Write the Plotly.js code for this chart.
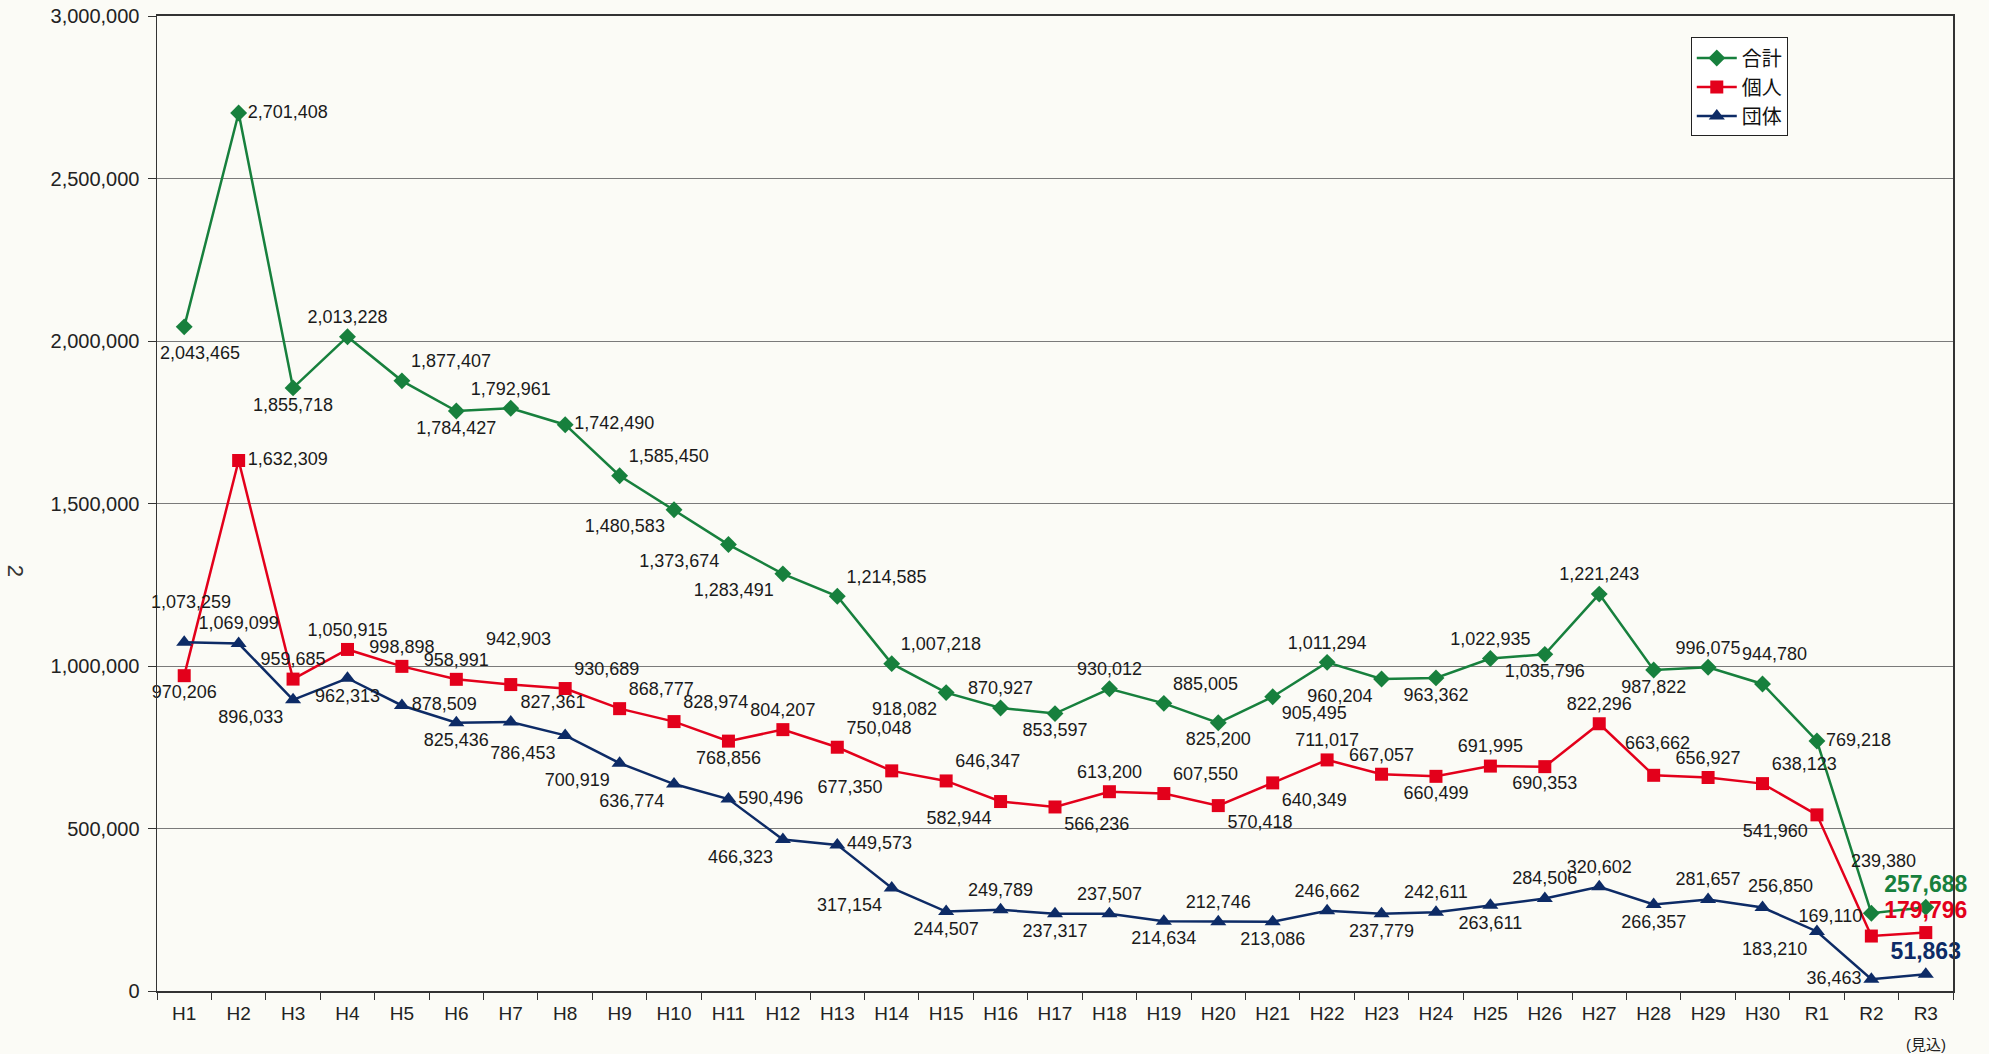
<!DOCTYPE html>
<html>
<head>
<meta charset="utf-8">
<script src="https://cdn.plot.ly/plotly-3.0.1.min.js"></script>
<style>
html,body{margin:0;padding:0;background:#fbfbf6;}
#chart{width:1989px;height:1054px;}
</style>
</head>
<body>
<div id="chart"></div>
<script>
// ---- data ----
const categories = ['H1','H2','H3','H4','H5','H6','H7','H8','H9','H10','H11','H12','H13','H14','H15','H16','H17','H18','H19','H20','H21','H22','H23','H24','H25','H26','H27','H28','H29','H30','R1','R2','R3'];
const totalValues = [2043465,2701408,1855718,2013228,1877407,1784427,1792961,1742490,1585450,1480583,1373674,1283491,1214585,1007218,918082,870927,853597,930012,885005,825200,905495,1011294,960204,963362,1022935,1035796,1221243,987822,996075,944780,769218,239380,257688];
const individualValues = [970206,1632309,959685,1050915,998898,958991,942903,930689,868777,828974,768856,804207,750048,677350,646347,582944,566236,613200,607550,570418,640349,711017,667057,660499,691995,690353,822296,663662,656927,638123,541960,169110,179796];
const groupValues = [1073259,1069099,896033,962313,878509,825436,827361,786453,700919,636774,590496,466323,449573,317154,244507,249789,237317,237507,214634,212746,213086,246662,237779,242611,263611,284506,320602,266357,281657,256850,183210,36463,51863];
const seriesNames = ['合計','個人','団体'];
const estimateNote = '(見込)';
const pageMark = '2';

// ---- styles ----
const GREEN = '#17803d', RED = '#e3001b', NAVY = '#0d2b66';
const FONT = '"Liberation Sans", Arial, "Noto Sans CJK JP", sans-serif';
const LABEL_COLOR = '#1a1a1a';
const LABEL_SIZE = 18;

const greenPos = ['bottom center','middle right','bottom center','top center','top right','bottom center','top center','middle right','top right','bottom left','bottom left','bottom left','top right','top right','bottom left','top center','bottom center','top center','top right','bottom center','bottom right','top center','bottom left','bottom center','top center','bottom center','top center','bottom center','top center','top center','middle right','top center','top center'];
const redPos = ['bottom center','middle right','top center','top center','top center','top center','top center','top right','top right','top right','bottom center','top center','top right','bottom left','top right','bottom left','bottom right','top center','top right','bottom right','bottom right','top center','top center','bottom center','top center','bottom center','top center','top center','top center','top right','bottom left','top left','top center'];
const bluePos = ['top center','top center','bottom left','bottom center','middle right','bottom center','top right','bottom left','bottom left','bottom left','middle right','bottom left','middle right','bottom left','bottom center','top center','bottom center','top center','bottom center','top center','bottom center','top center','bottom center','top center','bottom center','top center','top center','bottom center','top center','top center','bottom left','middle left','top center'];

// labels drawn as annotations with a custom offset (series index, point index, dx, dy in px; dy>0 = up)
const labelOffsets = [
  {s: 0, i: 0, dx: 16, dy: -26},
  {s: 0, i: 29, dx: 12, dy: 30},
  {s: 0, i: 31, dx: 12, dy: 52},
  {s: 1, i: 6, dx: 8, dy: 46},
  {s: 1, i: 27, dx: 4, dy: 32},
  {s: 2, i: 0, dx: 7, dy: 40},
  {s: 2, i: 29, dx: 18, dy: 22}
];

const allValues = [totalValues, individualValues, groupValues];
const last = categories.length - 1;
function fmt(v){ return v.toLocaleString('en-US'); }
function labels(vals, s){
  const skip = labelOffsets.filter(o => o.s === s).map(o => o.i);
  return vals.map((v,i) => {
    if (skip.indexOf(i) >= 0) return '';
    return i === last ? '<b>' + fmt(v) + '</b>' : fmt(v);
  });
}
function colors(vals, c){ return vals.map((v,i) => i === last ? c : LABEL_COLOR); }
function sizes(vals){ return vals.map((v,i) => i === last ? 23 : LABEL_SIZE); }

const traces = [
  {
    name: seriesNames[0], x: categories, y: totalValues, type: 'scatter', mode: 'lines+markers+text',
    line: {color: GREEN, width: 2.5},
    marker: {symbol: 'diamond', size: 13, color: GREEN},
    text: labels(totalValues, 0), textposition: greenPos,
    textfont: {family: FONT, size: sizes(totalValues), color: colors(totalValues, GREEN)},
    cliponaxis: false, hoverinfo: 'x+y'
  },
  {
    name: seriesNames[1], x: categories, y: individualValues, type: 'scatter', mode: 'lines+markers+text',
    line: {color: RED, width: 2.5},
    marker: {symbol: 'square', size: 13, color: RED},
    text: labels(individualValues, 1), textposition: redPos,
    textfont: {family: FONT, size: sizes(individualValues), color: colors(individualValues, RED)},
    cliponaxis: false, hoverinfo: 'x+y'
  },
  {
    name: seriesNames[2], x: categories, y: groupValues, type: 'scatter', mode: 'lines+markers+text',
    line: {color: NAVY, width: 2.5},
    marker: {symbol: 'triangle-up', size: 14, color: NAVY},
    text: labels(groupValues, 2), textposition: bluePos,
    textfont: {family: FONT, size: sizes(groupValues), color: colors(groupValues, NAVY)},
    cliponaxis: false, hoverinfo: 'x+y'
  }
];

const annotations = labelOffsets.map(o => ({
  x: categories[o.i], y: allValues[o.s][o.i], xref: 'x', yref: 'y',
  text: fmt(allValues[o.s][o.i]), showarrow: false,
  xanchor: 'center', yanchor: 'middle', xshift: o.dx, yshift: o.dy,
  font: {family: FONT, size: LABEL_SIZE, color: LABEL_COLOR}
}));
annotations.push({
  x: categories[last], y: 0, xref: 'x', yref: 'paper',
  text: estimateNote, showarrow: false, xanchor: 'center', yanchor: 'middle', yshift: -53,
  font: {family: FONT, size: 15, color: '#222'}
});
annotations.push({
  x: -0.0791, y: 0.431, xref: 'paper', yref: 'paper',
  text: pageMark, showarrow: false, textangle: 90, xanchor: 'center', yanchor: 'middle',
  font: {family: FONT, size: 22, color: '#333'}
});

const layout = {
  width: 1989, height: 1054,
  margin: {l: 157, r: 36, t: 16, b: 63},
  paper_bgcolor: '#fbfbf6', plot_bgcolor: '#fbfbf6',
  font: {family: FONT, color: '#222'},
  showlegend: true,
  legend: {
    x: 0.854, y: 0.978, xanchor: 'left', yanchor: 'top',
    bgcolor: '#ffffff', bordercolor: '#222', borderwidth: 1,
    font: {family: '"Noto Sans CJK JP", sans-serif', size: 20, color: '#111'},
    tracegroupgap: 0, itemwidth: 40
  },
  xaxis: {
    type: 'category', tickson: 'boundaries', ticks: 'outside', ticklen: 7, tickcolor: '#333',
    showline: true, linecolor: '#333', linewidth: 2, mirror: true, showgrid: false,
    tickfont: {family: FONT, size: 19, color: '#222'}, range: [-0.5, last + 0.5],
    zeroline: false, ticklabelstandoff: 4
  },
  yaxis: {
    range: [0, 3000000], dtick: 500000, tickformat: ',d',
    ticks: 'outside', ticklen: 8, tickcolor: '#333',
    showline: true, linecolor: '#333', linewidth: 1.5, mirror: true,
    showgrid: true, gridcolor: '#7a7a7a', gridwidth: 1, zeroline: false,
    tickfont: {family: FONT, size: 20, color: '#222'}, ticklabelstandoff: 4
  },
  annotations: annotations
};

Plotly.newPlot('chart', traces, layout, {displayModeBar: false, staticPlot: true});
</script>
</body>
</html>
